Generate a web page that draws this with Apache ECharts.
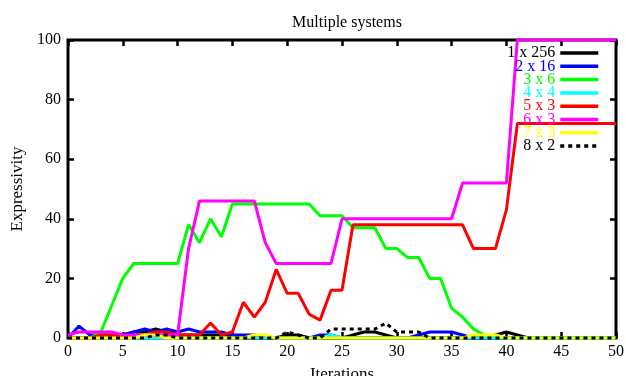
<!DOCTYPE html>
<html><head><meta charset="utf-8">
<script src="https://cdn.jsdelivr.net/npm/echarts@6/dist/echarts.min.js"></script>
<style>html,body{margin:0;padding:0;background:#fff}#c{width:626px;height:376px}</style>
</head><body><div id="c"></div>
<script>
var iterations = [];
for (var k = 0; k <= 50; k++) iterations.push(k);
var names = ['1 x 256','2 x 16','3 x 6','4 x 4','5 x 3','6 x 3','7 x 3','8 x 2'];
var colors = ['#000000','#0000ff','#00ff00','#00ffff','#ff0000','#ff00ff','#ffff00','#000000'];
var s1x256 = [0,0,0,0,0,1,2,2,3,2,1,1,1,1,1,1,0,0,0,0,1,1,0,0,0,0,1,2,2,1,0,0,0,0,0,0,0,0,0,1,2,1,0,0,0,0,0,0,0,0,0];
var s2x16 = [0,4,1,1,1,1,2,3,2,3,2,3,2,2,2,1,1,1,0,0,0,0,0,1,1,0,0,0,0,0,0,0,1,2,2,2,1,0,0,0,0,0,0,0,0,0,0,0,0,0,0];
var s3x6 = [0,0,0,2,11,20,25,25,25,25,25,38,32,40,34,45,45,45,45,45,45,45,45,41,41,41,37,37,37,30,30,27,27,20,20,10,7,3,1,0,0,0,0,0,0,0,0,0,0,0,0];
var s4x4 = [0,0,0,0,0,0,0,0,0,0,0,0,0,0,0,0,0,0,0,0,0,0,0,0,1,0,0,0,0,0,0,0,0,0,0,0,0,0,0,0,0,0,0,0,0,0,0,0,0,0,0];
var s5x3 = [0,0,0,1,1,0,1,1,2,2,1,1,1,5,1,2,12,7,12,23,15,15,8,6,16,16,38,38,38,38,38,38,38,38,38,38,38,30,30,30,43,72,72,72,72,72,72,72,72,72,72];
var s6x3 = [1,2,2,2,2,1,1,1,1,1,1,30,46,46,46,46,46,46,32,25,25,25,25,25,25,40,40,40,40,40,40,40,40,40,40,40,52,52,52,52,52,100,100,100,100,100,100,100,100,100,100];
var s7x3 = [0,0,0,0,0,0,0,1,1,0,0,0,0,0,0,0,0,1,1,0,0,0,0,0,0,0,0,0,0,0,0,0,0,0,0,0,0,1,1,1,0,0,0,0,0,0,0,0,0,0,0];
var s8x2 = [0,0,0,0,0,0,0,0,1,1,0,0,0,0,0,0,0,0,0,0,2,1,0,0,3,3,3,3,3,5,2,2,2,0,0,0,0,0,0,0,0,0,0,0,0,0,0,0,0,0,0];
var allData = [s1x256,s2x16,s3x6,s4x4,s5x3,s6x3,s7x3,s8x2];

var font = 'Liberation Serif';
var series = allData.map(function(d, i){
  return {
    name: names[i], type: 'line', symbol: 'none', clip: false,
    data: d.map(function(v, j){ return [iterations[j], v]; }),
    lineStyle: {color: colors[i], width: 3, type: i === 7 ? [4,4] : 'solid'},
    itemStyle: {color: colors[i]}
  };
});
var tick = {inside: true, length: 6, lineStyle: {color: '#000', width: 2.5}};
var chart = echarts.init(document.getElementById('c'));
chart.setOption({
  animation: false,
  backgroundColor: '#fff',
  title: {text: 'Multiple systems', left: 342, textAlign: 'center', top: 10,
    textStyle: {fontFamily: font, fontSize: 16, fontWeight: 'normal', color: '#000'}},
  grid: {left: 68, right: 10, top: 40, bottom: 38, show: true, borderColor: '#000', borderWidth: 3,
    outerBoundsMode: 'none', containLabel: false},
  legend: {
    orient: 'vertical', right: 26, top: 45, align: 'right', itemWidth: 38, itemHeight: 12, itemGap: -2.7,
    padding: 0,
    lineStyle: {width: 3.5},
    itemStyle: {color: 'transparent', borderColor: 'transparent', borderWidth: 0, opacity: 0},
    data: names.map(function(n, i){ return {name: n, textStyle: {color: colors[i]}}; }),
    textStyle: {fontFamily: font, fontSize: 16}
  },
  xAxis: [{
    type: 'value', min: 0, max: 50, interval: 5, name: 'Iterations', nameLocation: 'middle', nameGap: 28,
    nameTextStyle: {fontFamily: font, fontSize: 17, color: '#000'},
    axisLine: {show: false, onZero: false}, splitLine: {show: false},
    axisTick: tick,
    axisLabel: {fontFamily: font, fontSize: 16, color: '#000', margin: 6}
  },{
    type: 'value', position: 'top', min: 0, max: 50, interval: 5,
    axisLine: {show: false, onZero: false}, splitLine: {show: false}, axisLabel: {show: false},
    axisTick: tick
  }],
  yAxis: [{
    type: 'value', min: 0, max: 100, interval: 20, name: 'Expressivity', nameLocation: 'middle', nameGap: 41,
    nameTextStyle: {fontFamily: font, fontSize: 17, color: '#000'},
    axisLine: {show: false, onZero: false}, splitLine: {show: false},
    axisTick: tick,
    axisLabel: {fontFamily: font, fontSize: 16, color: '#000', margin: 7}
  },{
    type: 'value', position: 'right', min: 0, max: 100, interval: 20,
    axisLine: {show: false, onZero: false}, splitLine: {show: false}, axisLabel: {show: false},
    axisTick: tick
  }],
  series: series
});
</script></body></html>
